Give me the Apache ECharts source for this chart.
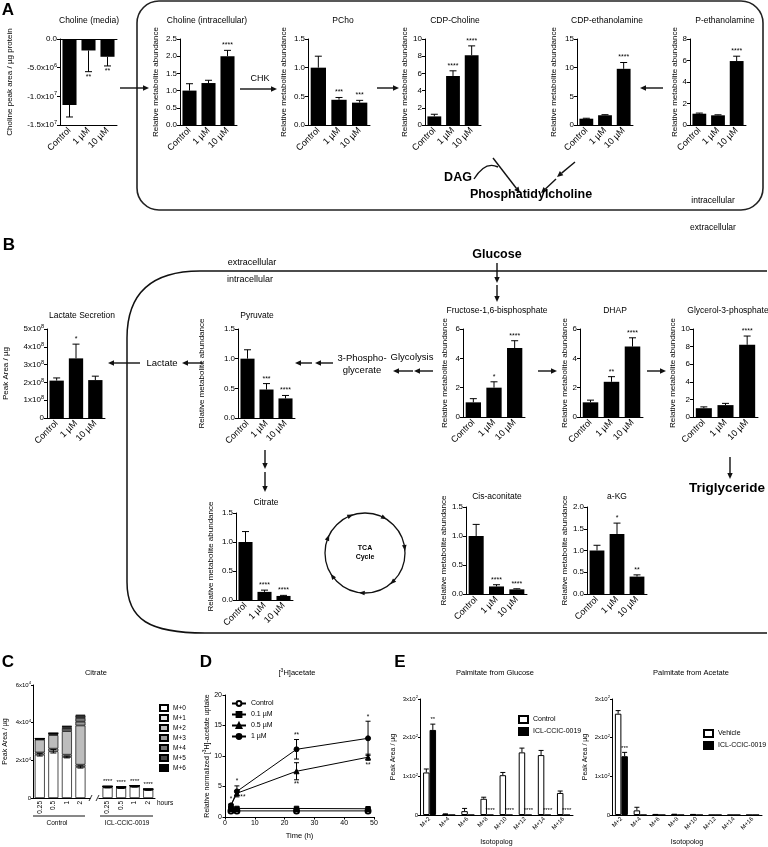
<!DOCTYPE html>
<html><head><meta charset="utf-8">
<script src="https://cdn.jsdelivr.net/npm/echarts@6/dist/echarts.min.js"></script>
<style>html,body{margin:0;padding:0;background:#fff}#c{width:768px;height:847px}</style>
</head><body><div id="c"></div>
<script>
// ---------------- DATA ----------------
const doses = ['Control', '1 µM', '10 µM'];

const cholineMediaMean = [-1.15e7, -0.20e7, -0.31e7];
const cholineMediaErr = [0.21e7, 0.37e7, 0.16e7];
const cholineMediaSig = ['', '**', '**'];
const cholineMediaTicks = ['-1.5x10^7', '-1.0x10^7', '-5.0x10^6', '0.0'];

const cholineIntraMean = [1.0, 1.22, 2.0];
const cholineIntraErr = [0.2, 0.08, 0.17];
const cholineIntraSig = ['', '', '****'];

const pchoMean = [1.0, 0.44, 0.39];
const pchoErr = [0.2, 0.04, 0.04];
const pchoSig = ['', '***', '***'];

const cdpCholineMean = [1.0, 5.7, 8.1];
const cdpCholineErr = [0.25, 0.6, 1.1];
const cdpCholineSig = ['', '****', '****'];

const cdpEthMean = [1.1, 1.7, 9.8];
const cdpEthErr = [0.08, 0.1, 1.1];
const cdpEthSig = ['', '', '****'];

const pEthMean = [1.05, 0.9, 5.95];
const pEthErr = [0.06, 0.05, 0.45];
const pEthSig = ['', '', '****'];

const lactateMean = [2.1e8, 3.35e8, 2.13e8];
const lactateErr = [0.15e8, 0.8e8, 0.22e8];
const lactateSig = ['', '*', ''];
const lactateTicks = ['0', '1x10^8', '2x10^8', '3x10^8', '4x10^8', '5x10^8'];

const pyruvateMean = [1.0, 0.48, 0.33];
const pyruvateErr = [0.15, 0.1, 0.05];
const pyruvateSig = ['', '***', '****'];

const fbpMean = [1.0, 2.0, 4.7];
const fbpErr = [0.25, 0.4, 0.5];
const fbpSig = ['', '*', '****'];

const dhapMean = [1.0, 2.4, 4.8];
const dhapErr = [0.15, 0.35, 0.6];
const dhapSig = ['', '**', '****'];

const g3pMean = [1.0, 1.35, 8.2];
const g3pErr = [0.15, 0.2, 1.0];
const g3pSig = ['', '', '****'];

const citrateMean = [1.0, 0.14, 0.07];
const citrateErr = [0.18, 0.03, 0.01];
const citrateSig = ['', '****', '****'];

const cisMean = [1.0, 0.13, 0.08];
const cisErr = [0.2, 0.03, 0.01];
const cisSig = ['', '****', '****'];

const akgMean = [1.0, 1.38, 0.4];
const akgErr = [0.12, 0.25, 0.04];
const akgSig = ['', '*', '**'];

// Panel C
const isoTimes = ['0.25', '0.5', '1', '2', '', '0.25', '0.5', '1', '2'];
const isoNames = ['M+0', 'M+1', 'M+2', 'M+3', 'M+4', 'M+5', 'M+6'];
const citM0 = [23000, 24800, 21800, 16500, null, 5600, 5300, 6000, 4300];
const citM1 = [1200, 1400, 1200, 1200, null, 200, 200, 200, 150];
const citM2 = [6800, 7200, 12500, 20800, null, 300, 300, 300, 200];
const citM3 = [300, 600, 1200, 2000, null, 50, 50, 50, 30];
const citM4 = [200, 300, 800, 2000, null, 30, 30, 30, 20];
const citM5 = [100, 100, 500, 1200, null, 20, 20, 20, 10];
const citM6 = [50, 50, 200, 500, null, 0, 0, 0, 0];
const citM0Err = [700, 900, 500, 600, null, 200, 200, 200, 200];
const citSig = ['', '', '', '', '', '****', '****', '****', '****'];
const citIsoTicks = ['0', '2x10^4', '4x10^4', '6x10^4'];

// Panel D
const timeH = [2, 4, 24, 48];
const uptakeControl = [1.0, 1.0, 1.0, 1.0];
const uptakeControlErr = [0.1, 0.1, 0.1, 0.1];
const uptake01 = [1.35, 1.4, 1.4, 1.35];
const uptake01Err = [0.1, 0.15, 0.15, 0.15];
const uptake05 = [1.9, 3.9, 7.5, 9.8];
const uptake05Err = [0.2, 0.4, 1.4, 0.5];
const uptake1 = [1.9, 4.2, 11.1, 12.9];
const uptake1Err = [0.2, 0.9, 1.6, 2.8];
const dSigText = ['*', '*', '**', '**', '**', '*', '**'];
const dSigX = [2, 4, 6, 24, 24, 48, 48];
const dSigY = [2.1, 5.1, 3.3, 12.7, 6.1, 15.7, 9.3];
const dSigDir = [1, 1, 0, 1, -1, 1, -1];

// Panel E
const isotopologs = ['M+2', 'M+4', 'M+6', 'M+8', 'M+10', 'M+12', 'M+14', 'M+16'];
const glcControl = [110, 2, 10, 42, 103, 162, 155, 57];
const glcControlErr = [9, 1, 7, 4, 7, 11, 12, 5];
const glcICL = [220, 0, 0, 0, 0, 0, 0, 0];
const glcICLErr = [15, 0, 0, 0, 0, 0, 0, 0];
const glcSig = ['**', '', '', '****', '****', '****', '****', '****'];
const acVehicle = [262, 12, 1, 1.5, 1, 0, 0, 0];
const acVehicleErr = [8, 8, 0.5, 0.5, 0.5, 0, 0, 0];
const acICL = [152, 0, 0, 0, 0, 0, 0, 0];
const acICLErr = [10, 0, 0, 0, 0, 0, 0, 0];
const acSig = ['***', '', '', '', '', '', '', ''];
const palmTicks = ['0', '1x10^2', '2x10^2', '3x10^2'];

// ---------------- BUILD ----------------
const FONT = 'Liberation Sans, Arial, Helvetica, sans-serif';
const grids = [], xAxes = [], yAxes = [], series = [], graphics = [], legends = [];

function rich(str) {
  const p = str.split('^');
  return p.length > 1 ? '{n|' + p[0] + '}{s|' + p[1] + '}' : '{n|' + str + '}';
}
function richStyle(fs) {
  return { n: { fontSize: fs, fontFamily: FONT, color: '#000' },
           s: { fontSize: fs * 0.7, fontFamily: FONT, color: '#000', padding: [0, 0, fs * 0.6, 0] } };
}
const txt = (x, y, text, fs, o = {}) => ({ type: 'text', x, y, silent: true, z: 50,
  style: Object.assign({ text, fontSize: fs, fontFamily: FONT, fill: '#000', align: 'center', verticalAlign: 'middle' }, o) });
function line(x1, y1, x2, y2, lw = 1.5) {
  graphics.push({ type: 'line', silent: true, shape: { x1, y1, x2, y2 }, style: { stroke: '#111', lineWidth: lw } });
}
function curve(x1, y1, cpx1, cpy1, cpx2, cpy2, x2, y2, lw = 1.5) {
  graphics.push({ type: 'bezierCurve', silent: true, shape: { x1, y1, x2, y2, cpx1, cpy1, cpx2, cpy2 }, style: { stroke: '#111', lineWidth: lw, fill: null } });
}
function arrow(x1, y1, x2, y2, head = 6, lw = 1.4) {
  const a = Math.atan2(y2 - y1, x2 - x1);
  const hx = x2 - head * Math.cos(a), hy = y2 - head * Math.sin(a);
  const w = head * 0.45;
  graphics.push({ type: 'line', silent: true, shape: { x1, y1, x2: hx, y2: hy }, style: { stroke: '#111', lineWidth: lw } });
  graphics.push({ type: 'polygon', silent: true, shape: { points: [[x2, y2], [hx + w * Math.sin(a), hy - w * Math.cos(a)], [hx - w * Math.sin(a), hy + w * Math.cos(a)]] }, style: { fill: '#111' } });
}

function errorSeries(xi, yi, xs, ys, errs, sigs, opt) {
  const o = Object.assign({ dir: 1, dx: 0, star: 7, cap: 3 }, opt || {});
  return {
    type: 'custom', xAxisIndex: xi, yAxisIndex: yi, z: 5, silent: true, clip: false,
    data: xs.map((x, i) => [x, ys[i] == null ? NaN : ys[i], errs[i] == null ? 0 : errs[i]]),
    renderItem(params, api) {
      const x = api.value(0), m = api.value(1), e = api.value(2) || 0;
      if (isNaN(m)) return null;
      const s = sigs ? sigs[params.dataIndex] : '';
      const children = [];
      const st = { stroke: '#000', lineWidth: 1 };
      const seg = (d) => {
        const p0 = api.coord([x, m]), p1 = api.coord([x, m + d * e]);
        p0[0] += o.dx; p1[0] += o.dx;
        if (e > 0) {
          children.push({ type: 'line', shape: { x1: p0[0], y1: p0[1], x2: p1[0], y2: p1[1] }, style: st });
          children.push({ type: 'line', shape: { x1: p1[0] - o.cap, y1: p1[1], x2: p1[0] + o.cap, y2: p1[1] }, style: st });
        }
        return p1;
      };
      let top;
      if (o.dir === 0) { top = seg(1); seg(-1); } else { top = seg(o.dir); }
      if (s) {
        const neg = o.dir < 0;
        children.push({ type: 'text', x: top[0], y: top[1] + (neg ? 2 : -1.5),
          style: { text: s, fontSize: o.star, fontFamily: FONT, fill: '#000', align: 'center', verticalAlign: neg ? 'top' : 'bottom' } });
      }
      return { type: 'group', children };
    }
  };
}

function axisLineStyle() { return { show: true, onZero: false, lineStyle: { color: '#000', width: 1 } }; }

function addBarChart(sp) {
  const gi = grids.length;
  grids.push({ left: sp.box[0], top: sp.box[1], width: sp.box[2], height: sp.box[3] });
  const xi = xAxes.length;
  xAxes.push({ gridIndex: gi, type: 'category', data: doses, position: 'bottom',
    axisLine: axisLineStyle(),
    axisTick: { alignWithLabel: true, length: 3, lineStyle: { color: '#000' } },
    axisLabel: { interval: 0, rotate: 45, fontSize: 9, color: '#000', fontFamily: FONT, margin: 4 } });
  if (sp.neg) {
    xAxes.push({ gridIndex: gi, type: 'category', data: doses, position: 'top',
      axisLine: axisLineStyle(), axisTick: { show: false }, axisLabel: { show: false } });
  }
  const yi = yAxes.length;
  const mn = sp.min || 0;
  yAxes.push({ gridIndex: gi, type: 'value', min: mn, max: sp.max, interval: sp.interval,
    axisLine: { show: true, lineStyle: { color: '#000', width: 1 } },
    axisTick: { show: true, length: 3, lineStyle: { color: '#000' } },
    splitLine: { show: false },
    axisLabel: { fontSize: 8, color: '#000', fontFamily: FONT, margin: 3, showMinLabel: true, showMaxLabel: true,
      formatter: sp.ticks ? (v) => rich(sp.ticks[Math.round((v - mn) / sp.interval)]) : (v) => (sp.dec ? v.toFixed(sp.dec) : String(v)),
      rich: richStyle(8) },
    name: sp.yname || 'Relative metabolite abundance', nameLocation: 'middle', nameGap: sp.nameGap,
    nameTextStyle: { fontSize: 8, fontFamily: FONT, color: '#000' } });
  series.push({ type: 'bar', xAxisIndex: xi, yAxisIndex: yi, data: sp.mean, barWidth: '74%', silent: true,
    itemStyle: { color: '#000' } });
  series.push(errorSeries(xi, yi, [0, 1, 2], sp.mean, sp.err, sp.sig, { dir: sp.neg ? -1 : 1, star: 7, cap: 3.5 }));
  graphics.push(txt(sp.titleXY[0], sp.titleXY[1], sp.title, 8.5));
}

const barSpecs = [
  { title: 'Choline (media)', mean: cholineMediaMean, err: cholineMediaErr, sig: cholineMediaSig, min: -1.5e7, max: 0, interval: 5e6, ticks: cholineMediaTicks, neg: true,
    yname: 'Choline peak area / µg protein', box: [60, 39, 57, 86], nameGap: 46, titleXY: [89, 21] },
  { title: 'Choline (intracellular)', mean: cholineIntraMean, err: cholineIntraErr, sig: cholineIntraSig, max: 2.5, interval: 0.5, dec: 1,
    box: [180, 39, 57, 86], nameGap: 20, titleXY: [207, 21] },
  { title: 'PCho', mean: pchoMean, err: pchoErr, sig: pchoSig, max: 1.5, interval: 0.5, dec: 1,
    box: [308, 39, 62, 86], nameGap: 20, titleXY: [343, 21] },
  { title: 'CDP-Choline', mean: cdpCholineMean, err: cdpCholineErr, sig: cdpCholineSig, max: 10, interval: 2,
    box: [425, 39, 56, 86], nameGap: 14, titleXY: [455, 21] },
  { title: 'CDP-ethanolamine', mean: cdpEthMean, err: cdpEthErr, sig: cdpEthSig, max: 15, interval: 5,
    box: [577, 39, 56, 86], nameGap: 19, titleXY: [607, 21] },
  { title: 'P-ethanolamine', mean: pEthMean, err: pEthErr, sig: pEthSig, max: 8, interval: 2,
    box: [690, 39, 56, 86], nameGap: 11, titleXY: [725, 21] },
  { title: 'Lactate Secretion', mean: lactateMean, err: lactateErr, sig: lactateSig, max: 5e8, interval: 1e8, ticks: lactateTicks,
    yname: 'Peak Area / µg', box: [47, 329, 58, 89], nameGap: 37, titleXY: [82, 316] },
  { title: 'Pyruvate', mean: pyruvateMean, err: pyruvateErr, sig: pyruvateSig, max: 1.5, interval: 0.5, dec: 1,
    box: [238, 329, 57, 89], nameGap: 32, titleXY: [257, 316] },
  { title: 'Fructose-1,6-bisphosphate', mean: fbpMean, err: fbpErr, sig: fbpSig, max: 6, interval: 2,
    box: [463, 329, 62, 88], nameGap: 14, titleXY: [497, 311] },
  { title: 'DHAP', mean: dhapMean, err: dhapErr, sig: dhapSig, max: 6, interval: 2,
    box: [580, 329, 63, 88], nameGap: 11, titleXY: [615, 311] },
  { title: 'Glycerol-3-phosphate', mean: g3pMean, err: g3pErr, sig: g3pSig, max: 10, interval: 2,
    box: [693, 329, 65, 88], nameGap: 12, titleXY: [728, 311] },
  { title: 'Citrate', mean: citrateMean, err: citrateErr, sig: citrateSig, max: 1.5, interval: 0.5, dec: 1,
    box: [236, 513, 57, 87], nameGap: 21, titleXY: [266, 503] },
  { title: 'Cis-aconitate', mean: cisMean, err: cisErr, sig: cisSig, max: 1.5, interval: 0.5, dec: 1,
    box: [466, 507, 61, 87], nameGap: 17, titleXY: [497, 497] },
  { title: 'a-KG', mean: akgMean, err: akgErr, sig: akgSig, max: 2.0, interval: 0.5, dec: 1,
    box: [587, 507, 60, 87], nameGap: 18, titleXY: [617, 497] }
];
barSpecs.forEach(addBarChart);

// ---- Panel C ----
(function () {
  const gi = grids.length;
  grids.push({ left: 33, top: 685, width: 122, height: 113 });
  const xi = xAxes.length;
  xAxes.push({ gridIndex: gi, type: 'category', data: isoTimes,
    axisLine: axisLineStyle(),
    axisTick: { alignWithLabel: true, length: 2, interval: (i) => isoTimes[i] !== '', lineStyle: { color: '#000' } },
    axisLabel: { interval: 0, rotate: 90, fontSize: 6.5, color: '#000', fontFamily: FONT, margin: 3 } });
  const yi = yAxes.length;
  yAxes.push({ gridIndex: gi, type: 'value', min: 0, max: 60000, interval: 20000,
    axisLine: { show: true, lineStyle: { color: '#000' } }, axisTick: { show: true, length: 2, lineStyle: { color: '#000' } },
    splitLine: { show: false },
    axisLabel: { fontSize: 6, margin: 2, formatter: (v) => rich(citIsoTicks[Math.round(v / 20000)]), rich: richStyle(6) },
    name: 'Peak Area / µg', nameLocation: 'middle', nameGap: 24, nameTextStyle: { fontSize: 7, fontFamily: FONT, color: '#000' } });
  const stacks = [citM0, citM1, citM2, citM3, citM4, citM5, citM6];
  const cols = ['#ffffff', '#e4e4e4', '#bdbdbd', '#9a9a9a', '#747474', '#484848', '#000000'];
  stacks.forEach((d, k) => series.push({ type: 'bar', name: isoNames[k], stack: 'iso', xAxisIndex: xi, yAxisIndex: yi, data: d,
    barWidth: '74%', silent: true, itemStyle: { color: cols[k], borderColor: '#000', borderWidth: 0.7 } }));
  series.push(errorSeries(xi, yi, isoTimes.map((_, i) => i), citM0, citM0Err, null, { dir: 0, cap: 3 }));
  const totals = isoTimes.map((_, i) => citM0[i] == null ? null : stacks.reduce((s, a) => s + a[i], 0));
  series.push(errorSeries(xi, yi, isoTimes.map((_, i) => i), totals, totals.map(() => 0), citSig, { dir: 1, star: 6 }));
  legends.push({ data: isoNames, left: 159, top: 704, padding: 0, orient: 'vertical', itemWidth: 8, itemHeight: 6, itemGap: 2,
    icon: 'rect', selectedMode: false, textStyle: { fontSize: 6.5, lineHeight: 6.5, fontFamily: FONT, color: '#000' } });
  graphics.push(txt(96, 673, 'Citrate', 7.5));
  graphics.push(txt(157, 803, 'hours', 6.5, { align: 'left' }));
  graphics.push({ type: 'rect', silent: true, z: 40, shape: { x: 90.5, y: 795, width: 8, height: 6 }, style: { fill: '#fff' } });
  graphics.push({ type: 'line', silent: true, z: 41, shape: { x1: 89, y1: 801, x2: 92, y2: 795 }, style: { stroke: '#000', lineWidth: 0.8 } });
  graphics.push({ type: 'line', silent: true, z: 41, shape: { x1: 96, y1: 801, x2: 99, y2: 795 }, style: { stroke: '#000', lineWidth: 0.8 } });
  line(33, 816, 85, 816, 1);
  line(100, 816, 153, 816, 1);
  graphics.push(txt(57, 823, 'Control', 6.5));
  graphics.push(txt(127, 823, 'ICL-CCIC-0019', 6.5));
})();

// ---- Panel D ----
(function () {
  const gi = grids.length;
  grids.push({ left: 225, top: 695, width: 149, height: 122 });
  const xi = xAxes.length;
  xAxes.push({ gridIndex: gi, type: 'value', min: 0, max: 50, interval: 10,
    axisLine: axisLineStyle(), axisTick: { show: true, length: 2.5, lineStyle: { color: '#000' } }, splitLine: { show: false },
    axisLabel: { fontSize: 7, color: '#000', fontFamily: FONT, margin: 3 },
    name: 'Time (h)', nameLocation: 'middle', nameGap: 15, nameTextStyle: { fontSize: 7.5, fontFamily: FONT, color: '#000' } });
  const yi = yAxes.length;
  yAxes.push({ gridIndex: gi, type: 'value', min: 0, max: 20, interval: 5,
    axisLine: { show: true, lineStyle: { color: '#000' } }, axisTick: { show: true, length: 2.5, lineStyle: { color: '#000' } },
    splitLine: { show: false }, axisLabel: { fontSize: 7, color: '#000', fontFamily: FONT, margin: 3 },
    name: '{n|Relative normalized [}{s|3}{n|H]-acetate uptake}', nameLocation: 'middle', nameGap: 12,
    nameTextStyle: { rich: richStyle(7) } });
  const defs = [
    ['Control', uptakeControl, uptakeControlErr, 'emptyCircle', 5],
    ['0.1 µM', uptake01, uptake01Err, 'rect', 4.5],
    ['0.5 µM', uptake05, uptake05Err, 'triangle', 5],
    ['1 µM', uptake1, uptake1Err, 'circle', 5]
  ];
  defs.forEach(([nm, vals, errs, sym, sz]) => {
    series.push({ type: 'line', name: nm, xAxisIndex: xi, yAxisIndex: yi, data: timeH.map((h, i) => [h, vals[i]]),
      symbol: sym, symbolSize: sz, silent: true, lineStyle: { color: '#000', width: 1 },
      itemStyle: { color: '#000', borderColor: '#000', borderWidth: 1 } });
    series.push(errorSeries(xi, yi, timeH, vals, errs, null, { dir: 0, cap: 2.5 }));
  });
  series.push({ type: 'custom', xAxisIndex: xi, yAxisIndex: yi, silent: true, z: 6,
    data: dSigX.map((x, i) => [x, dSigY[i], dSigDir[i]]),
    renderItem(params, api) {
      const p = api.coord([api.value(0), api.value(1)]);
      const d = api.value(2);
      return { type: 'text', x: p[0], y: p[1] + (d > 0 ? -1 : d < 0 ? 1 : 0),
        style: { text: dSigText[params.dataIndex], fontSize: 6.5, fontFamily: FONT, fill: '#000', align: 'center',
          verticalAlign: d > 0 ? 'bottom' : d < 0 ? 'top' : 'middle' } };
    } });
  legends.push({ data: defs.map(d => d[0]), left: 231, top: 700, padding: 0, orient: 'vertical', itemWidth: 14, itemHeight: 6, itemGap: 4,
    selectedMode: false, textStyle: { fontSize: 7, lineHeight: 7, fontFamily: FONT, color: '#000' } });
  graphics.push(txt(297, 673, '[{s|3}H]acetate', 7.5, { rich: { s: { fontSize: 5, padding: [0, 0, 4, 0], fontFamily: FONT } } }));
})();

// ---- Panel E ----
function addPalmitate(box, a, aErr, b, bErr, sig, nameA, legendPos, title, titleX) {
  const gi = grids.length;
  grids.push({ left: box[0], top: box[1], width: box[2], height: box[3] });
  const xi = xAxes.length;
  xAxes.push({ gridIndex: gi, type: 'category', data: isotopologs,
    axisLine: axisLineStyle(), axisTick: { alignWithLabel: true, length: 2, lineStyle: { color: '#000' } },
    axisLabel: { interval: 0, rotate: 45, fontSize: 6, color: '#000', fontFamily: FONT, margin: 3 },
    name: 'Isotopolog', nameLocation: 'middle', nameGap: 24, nameTextStyle: { fontSize: 7, fontFamily: FONT, color: '#000' } });
  const yi = yAxes.length;
  yAxes.push({ gridIndex: gi, type: 'value', min: 0, max: 300, interval: 100,
    axisLine: { show: true, lineStyle: { color: '#000' } }, axisTick: { show: true, length: 2, lineStyle: { color: '#000' } },
    splitLine: { show: false },
    axisLabel: { fontSize: 6, margin: 2, formatter: (v) => rich(palmTicks[Math.round(v / 100)]), rich: richStyle(6) },
    name: 'Peak Area / µg', nameLocation: 'middle', nameGap: 23, nameTextStyle: { fontSize: 7, fontFamily: FONT, color: '#000' } });
  const bw = 6.5;
  series.push({ type: 'bar', name: nameA, xAxisIndex: xi, yAxisIndex: yi, data: a, barWidth: bw, barGap: '0%', silent: true,
    itemStyle: { color: '#fff', borderColor: '#000', borderWidth: 1 } });
  series.push({ type: 'bar', name: 'ICL-CCIC-0019', xAxisIndex: xi, yAxisIndex: yi, data: b, barWidth: bw, barGap: '0%', silent: true,
    itemStyle: { color: '#000', borderColor: '#000', borderWidth: 1 } });
  const idx = isotopologs.map((_, i) => i);
  series.push(errorSeries(xi, yi, idx, a, aErr, null, { dir: 1, dx: -bw / 2, cap: 2.5 }));
  series.push(errorSeries(xi, yi, idx, b, bErr, sig, { dir: 1, dx: bw / 2, cap: 2.5, star: 6 }));
  legends.push({ data: [nameA, 'ICL-CCIC-0019'], left: legendPos[0], top: legendPos[1], padding: 0, orient: 'vertical',
    itemWidth: 9, itemHeight: 7, itemGap: 3, icon: 'rect', selectedMode: false,
    textStyle: { fontSize: 7, lineHeight: 7, fontFamily: FONT, color: '#000' } });
  graphics.push(txt(titleX, 673, title, 7.5));
}
addPalmitate([420, 699, 153, 118], glcControl, glcControlErr, glcICL, glcICLErr, glcSig, 'Control ', [518, 715], 'Palmitate from Glucose', 495);
addPalmitate([612, 699, 150, 118], acVehicle, acVehicleErr, acICL, acICLErr, acSig, 'Vehicle', [703, 729], 'Palmitate from Acetate', 691);

// ---------------- DIAGRAM ----------------
[['A', 8, 10], ['B', 9, 245], ['C', 8, 662], ['D', 206, 662], ['E', 400, 662]].forEach(([t, x, y]) =>
  graphics.push(txt(x, y, t, 17, { fontWeight: 'bold' })));

// Panel A box
graphics.push({ type: 'rect', silent: true, shape: { x: 137, y: 1, width: 626, height: 209, r: 22 }, style: { fill: null, stroke: '#222', lineWidth: 1.6 } });
arrow(120, 88, 149, 88);
arrow(240, 89, 277, 89);
graphics.push(txt(260, 79, 'CHK', 9));
arrow(377, 88, 399, 88);
arrow(663, 88, 640, 88);
arrow(493, 158, 520, 193);
curve(474, 179, 482, 166, 490, 163, 498, 167, 1.4);
arrow(575, 162, 557, 177);
arrow(556, 179, 541, 193);
graphics.push(txt(458, 178, 'DAG', 12.5, { fontWeight: 'bold' }));
graphics.push(txt(531, 195, 'Phosphatidylcholine', 12.5, { fontWeight: 'bold' }));
graphics.push(txt(713, 201, 'intracellular', 8.5));
graphics.push(txt(713, 228, 'extracellular', 8.5));

// Panel B membrane
line(767, 271, 200, 271);
curve(200, 271, 155, 271, 127, 290, 127, 338);
line(127, 338, 127, 582);
curve(127, 582, 127, 620, 150, 633, 205, 633);
line(205, 633, 767, 633);
graphics.push(txt(252, 263, 'extracellular', 9));
graphics.push(txt(250, 280, 'intracellular', 9));
graphics.push(txt(497, 255, 'Glucose', 12.5, { fontWeight: 'bold' }));
arrow(497, 263, 497, 283);
arrow(497, 285, 497, 302);
arrow(140, 363, 108, 363);
graphics.push(txt(162, 363, 'Lactate', 9.5));
arrow(203, 363, 182, 363);
arrow(312, 363, 295, 363);
arrow(333, 363, 315, 363);
graphics.push(txt(362, 364, '3-Phospho-\nglycerate', 9.5, { lineHeight: 12 }));
graphics.push(txt(412, 357, 'Glycolysis', 9.5));
arrow(413, 371, 393, 371);
arrow(433, 371, 414, 371);
arrow(538, 371, 557, 371);
arrow(647, 371, 666, 371);
arrow(265, 450, 265, 469);
arrow(265, 472, 265, 492);
arrow(730, 457, 730, 479);
graphics.push(txt(727, 488, 'Triglyceride', 13.5, { fontWeight: 'bold' }));

// TCA cycle
graphics.push({ type: 'circle', silent: true, shape: { cx: 365, cy: 553, r: 40 }, style: { fill: null, stroke: '#111', lineWidth: 1.3 } });
[-112, -158, 144, 94, 46, -8, -62].forEach((deg) => {
  const t = deg * Math.PI / 180, cx = 365 + 40 * Math.cos(t), cy = 553 + 40 * Math.sin(t);
  const tx = -Math.sin(t), ty = Math.cos(t), nx = Math.cos(t), ny = Math.sin(t);
  graphics.push({ type: 'polygon', silent: true, shape: { points: [[cx + tx * 3.5, cy + ty * 3.5], [cx - tx * 2.5 + nx * 2.3, cy - ty * 2.5 + ny * 2.3], [cx - tx * 2.5 - nx * 2.3, cy - ty * 2.5 - ny * 2.3]] }, style: { fill: '#111' } });
});
graphics.push(txt(365, 553, 'TCA\nCycle', 7, { fontWeight: 'bold', lineHeight: 9 }));

const chart = echarts.init(document.getElementById('c'), null, { renderer: 'canvas' });
chart.setOption({
  animation: false,
  backgroundColor: '#fff',
  textStyle: { fontFamily: FONT },
  grid: grids, xAxis: xAxes, yAxis: yAxes, series, legend: legends,
  graphic: { elements: graphics }
});
</script></body></html>
